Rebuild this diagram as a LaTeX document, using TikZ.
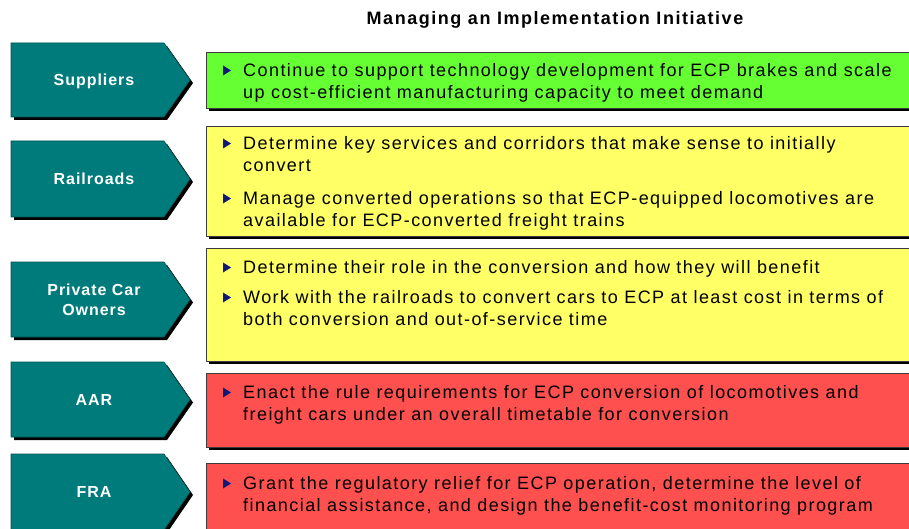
\documentclass[tikz,border=0pt]{standalone}
\usepackage{fontspec}
\usetikzlibrary{calc}
\setmainfont{Liberation Sans}
\newfontfamily\bodyfont[LetterSpace=8]{Liberation Sans}
\newfontfamily\ttlfont[LetterSpace=8.5]{Liberation Sans}
\newfontfamily\labfont[LetterSpace=6]{Liberation Sans}
\definecolor{tealc}{RGB}{0,123,123}
\definecolor{greenc}{RGB}{102,255,51}
\definecolor{yellowc}{RGB}{255,255,102}
\definecolor{redc}{RGB}{255,80,80}
\definecolor{navyc}{RGB}{16,24,120}
\definecolor{edgec}{RGB}{60,60,60}
\tikzset{
  chev/.style={fill=tealc, draw=tealc!70!black, line width=0.6pt},
  chevshadow/.style={fill=black},
  boxshadow/.style={fill=black},
  actbox/.style={draw=edgec, line width=0.8pt},
  lab/.style={text=white, font=\labfont\bfseries\fontsize{16}{20}\selectfont, align=center, inner sep=0pt},
  bodytext/.style={anchor=north west, inner sep=0pt, align=left, font=\bodyfont\fontsize{18}{22}\selectfont, text=black},
  bul/.style={fill=navyc},
  ttl/.style={font=\ttlfont\bfseries\fontsize{18}{20}\selectfont, inner sep=0pt}
}
\newcommand\chevpath[2]{(11,#1) -- (164,#1) -- (190,{(#1+#2)/2}) -- (164,#2) -- (11,#2) -- cycle}
\newcommand\strt{\rule{0pt}{13.5pt}}
\begin{document}
\begin{tikzpicture}[x=1pt,y=-1pt]
\useasboundingbox (0,0) rectangle (909,529);
\clip (0,0) rectangle (909,529);
\fill[white] (0,0) rectangle (909,529);

% title
\node[ttl] (title) at (555,20) {Managing an Implementation Initiative};

% chevrons
\foreach \t/\b in {43/117, 141/217, 262/337, 362/437, 454/530}{
  \fill[chevshadow, shift={(3,3)}] \chevpath{\t}{\b};
  \filldraw[chev] \chevpath{\t}{\b};
}
\node[lab, text height=11.5pt, text depth=0pt] (sup) at (94,80) {Suppliers};
\node[lab, text height=11.5pt, text depth=0pt] (rr) at (94,179) {Railroads};
\node[lab] (pco) at (94,300) {Private Car\\Owners};
\node[lab, text height=11.5pt, text depth=0pt] (aar) at (94,400) {AAR};
\node[lab, text height=11.5pt, text depth=0pt] (fra) at (94,492) {FRA};

% boxes
\foreach \t/\b/\c in {52/108/greenc, 126/236/yellowc, 248/361/yellowc, 373/447/redc, 463/545/redc}{
  \fill[boxshadow] (209,\t+3) rectangle (930,\b+3);
  \filldraw[actbox, fill=\c] (206,\t) rectangle (925,\b);
}

% texts
\node[bodytext] (t1) at (243,63) {\strt Continue to support technology development for ECP brakes and scale\\up cost-efficient manufacturing capacity to meet demand};
\node[bodytext] (t2) at (243,136) {\strt Determine key services and corridors that make sense to initially\\convert};
\node[bodytext] (t3) at (243,191) {\strt Manage converted operations so that ECP-equipped locomotives are\\available for ECP-converted freight trains};
\node[bodytext] (t4) at (243,260) {\strt Determine their role in the conversion and how they will benefit};
\node[bodytext] (t5) at (243,290) {\strt Work with the railroads to convert cars to ECP at least cost in terms of\\both conversion and out-of-service time};
\node[bodytext] (t6) at (243,385) {\strt Enact the rule requirements for ECP conversion of locomotives and\\freight cars under an overall timetable for conversion};
\node[bodytext] (t7) at (243,476) {\strt Grant the regulatory relief for ECP operation, determine the level of\\financial assistance, and design the benefit-cost monitoring program};

\foreach \n in {t1,t2,t3,t4,t5,t6,t7}{
  \fill[bul] ($(\n.north west)+(-20,2.5)$) -- ++(8,5) -- ++(-8,5) -- cycle;
}
\end{tikzpicture}
\end{document}
